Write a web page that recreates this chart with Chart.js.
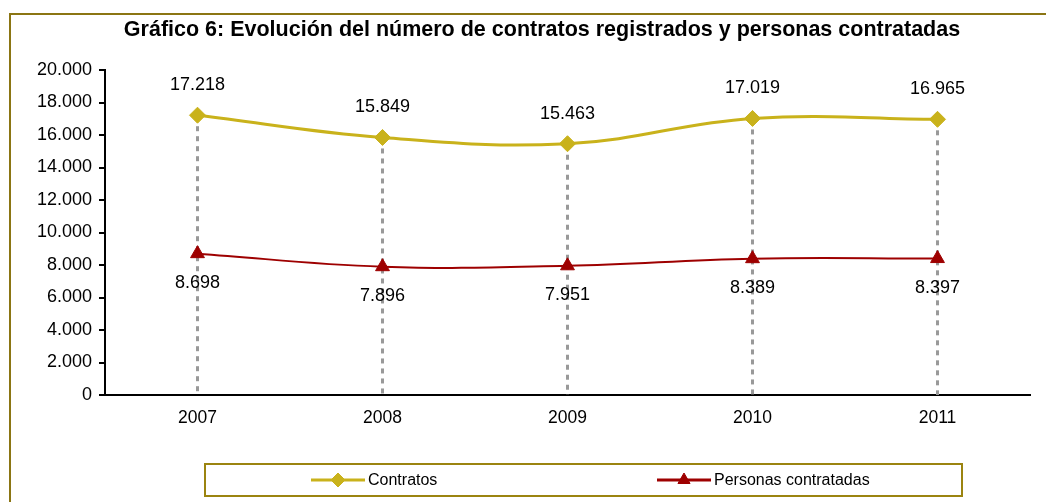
<!DOCTYPE html>
<html>
<head>
<meta charset="utf-8">
<script src="https://cdn.jsdelivr.net/npm/chart.js@4"></script>
<style>
  body { margin: 0; background: #fff; }
  #wrap { position: relative; width: 1046px; height: 502px; overflow: hidden; }
  #marco { position: absolute; left: 9px; top: 13px; width: 3000px; height: 3000px;
    border-left: 2px solid #8B7513; border-top: 2px solid #8B7513; }
  canvas { position: absolute; left: 0; top: 0; }
</style>
</head>
<body>
<div id="wrap">
  <div id="marco"></div>
  <canvas id="grafica" width="1046" height="502"></canvas>
</div>
<script>
const titulo = "Gráfico 6: Evolución del número de contratos registrados y personas contratadas";
const anios = ["2007", "2008", "2009", "2010", "2011"];
const contratos = [17218, 15849, 15463, 17019, 16965];
const personas = [8698, 7896, 7951, 8389, 8397];
const ejeMax = 20000;
const ejePaso = 2000;

const colorContratos = "#C9B21B";
const colorPersonas = "#9E0000";
const fuente = "'Liberation Sans', Arial, sans-serif";

// separador de miles con punto
function formato(n) {
  return String(n).replace(/\B(?=(\d{3})+(?!\d))/g, ".");
}

// lineas verticales discontinuas desde la serie de contratos hasta el eje
const lineasCaida = {
  id: "lineasCaida",
  beforeDatasetsDraw(chart) {
    const ctx = chart.ctx;
    const meta = chart.getDatasetMeta(0);
    const y0 = chart.scales.y.getPixelForValue(0);
    ctx.save();
    ctx.strokeStyle = "#999999";
    ctx.lineWidth = 3;
    ctx.setLineDash([5, 5]);
    meta.data.forEach(p => {
      ctx.beginPath();
      ctx.moveTo(p.x, p.y + 11);
      ctx.lineTo(p.x, y0);
      ctx.stroke();
    });
    ctx.restore();
  }
};

// etiquetas, titulo y leyenda
const extras = {
  id: "extras",
  afterDraw(chart) {
    const ctx = chart.ctx;
    ctx.save();
    ctx.fillStyle = "#000";
    ctx.font = "18px " + fuente;
    ctx.textAlign = "center";
    ctx.textBaseline = "middle";
    chart.getDatasetMeta(0).data.forEach((p, i) => {
      ctx.fillText(formato(contratos[i]), p.x, p.y - 30);
    });
    chart.getDatasetMeta(1).data.forEach((p, i) => {
      ctx.fillText(formato(personas[i]), p.x, p.y + 29);
    });

    ctx.font = "bold 21.5px " + fuente;
    ctx.fillText(titulo, 542, 30);

    // leyenda
    ctx.strokeStyle = "#9B8410";
    ctx.lineWidth = 2;
    ctx.strokeRect(205, 464, 757, 32);
    const items = [
      { x: 311, texto: "Contratos", color: colorContratos, forma: "rectRot", r: 7 },
      { x: 657, texto: "Personas contratadas", color: colorPersonas, forma: "triangle", r: 7 }
    ];
    ctx.textAlign = "left";
    ctx.font = "16px " + fuente;
    items.forEach(it => {
      ctx.strokeStyle = it.color;
      ctx.lineWidth = 3;
      ctx.setLineDash([]);
      ctx.beginPath();
      ctx.moveTo(it.x, 480);
      ctx.lineTo(it.x + 54, 480);
      ctx.stroke();
      ctx.fillStyle = it.color;
      ctx.lineWidth = 1;
      Chart.helpers.drawPoint(ctx, { pointStyle: it.forma, radius: it.r, borderWidth: 1 }, it.x + 27, 480);
      ctx.fillStyle = "#000";
      ctx.fillText(it.texto, it.x + 57, 481);
    });
    ctx.restore();
  }
};

new Chart(document.getElementById("grafica"), {
  type: "line",
  data: {
    labels: anios,
    datasets: [
      {
        label: "Contratos",
        data: contratos,
        borderColor: colorContratos,
        backgroundColor: colorContratos,
        borderWidth: 3,
        tension: 0.4,
        pointStyle: "rectRot",
        pointRadius: 8,
        pointBorderWidth: 1
      },
      {
        label: "Personas contratadas",
        data: personas,
        borderColor: colorPersonas,
        backgroundColor: colorPersonas,
        borderWidth: 2,
        tension: 0.4,
        pointStyle: "triangle",
        pointRadius: 8,
        pointBorderWidth: 1
      }
    ]
  },
  options: {
    responsive: false,
    animation: false,
    devicePixelRatio: 1,
    layout: { padding: { left: 0, top: 70, right: 16, bottom: 67 } },
    plugins: {
      legend: { display: false },
      title: { display: false },
      tooltip: { enabled: false }
    },
    scales: {
      x: {
        offset: true,
        grid: { display: false, drawTicks: false },
        border: { display: true, color: "#000", width: 2 },
        ticks: { color: "#000", font: { family: fuente, size: 17.5 }, padding: 13, maxRotation: 0 },
        afterFit(s) { s.height = 40; }
      },
      y: {
        min: 0,
        max: ejeMax,
        grid: { drawOnChartArea: false, drawTicks: true, tickLength: 6, color: "#000", lineWidth: 2 },
        border: { display: true, color: "#000", width: 2 },
        ticks: {
          stepSize: ejePaso,
          color: "#000",
          padding: 7,
          font: { family: fuente, size: 18 },
          callback: v => formato(v)
        },
        afterFit(s) { s.width = 105; }
      }
    }
  },
  plugins: [lineasCaida, extras]
});
</script>
</body>
</html>
